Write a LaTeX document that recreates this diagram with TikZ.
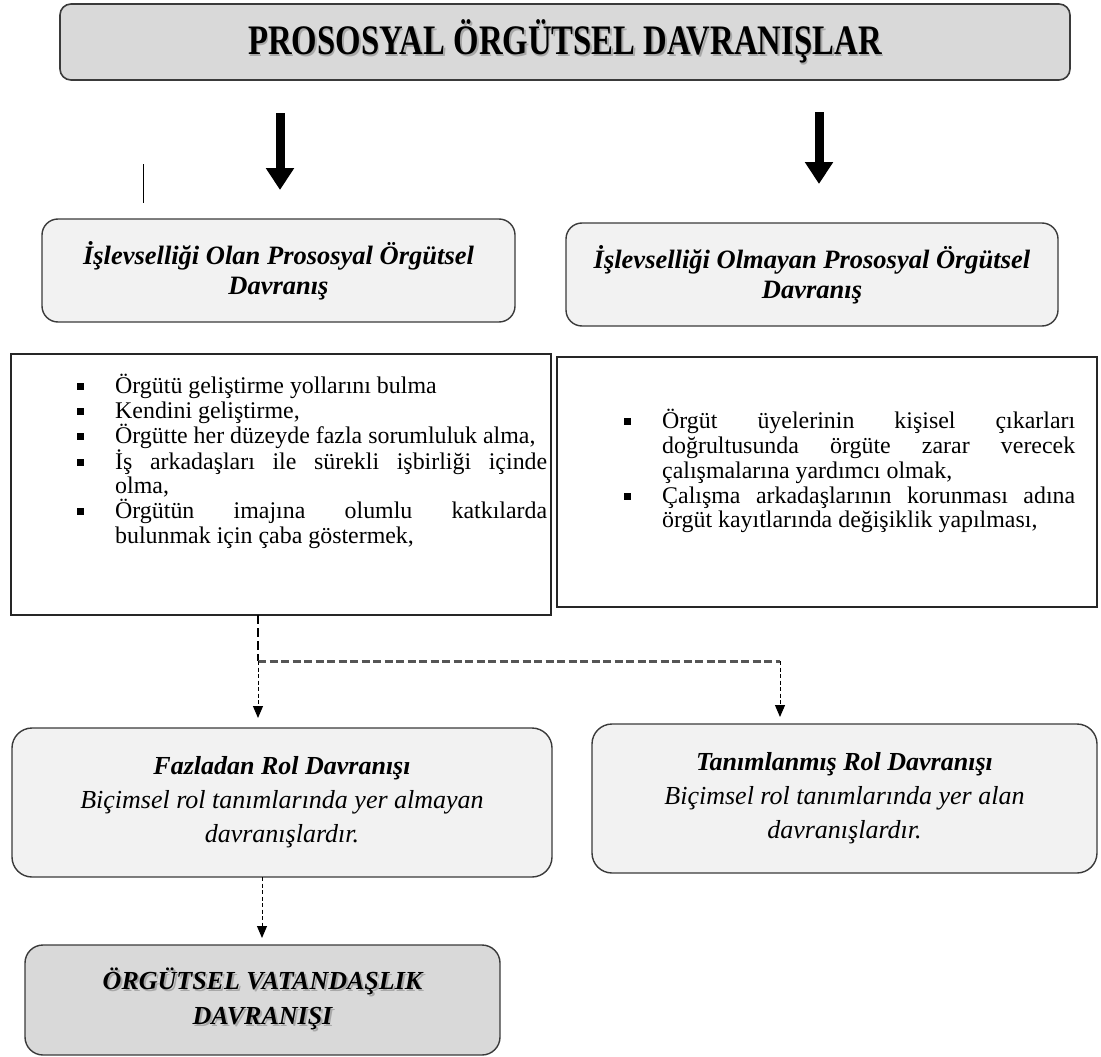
\documentclass[tikz,border=0pt]{standalone}
\usepackage{fontspec}
\usepackage{graphicx}
\setmainfont{Liberation Serif}[BoldFont={Liberation Serif Bold},ItalicFont={Liberation Serif Italic},BoldItalicFont={Liberation Serif Bold Italic}]
\usetikzlibrary{arrows.meta}
\definecolor{boxline}{HTML}{3A3A3A}
\definecolor{titlefill}{HTML}{D9D9D9}
\definecolor{lightfill}{HTML}{F2F2F2}
\definecolor{shadowgray}{HTML}{A8A8A8}
\definecolor{dashgray}{HTML}{555555}
\newcommand{\shadowed}[1]{\leavevmode\rlap{\kern2pt\raisebox{-2pt}{\textcolor{shadowgray}{#1}}}#1}
\newcommand{\bitem}{\par\noindent\llap{\makebox[38pt][l]{\rule[3.5pt]{7pt}{7pt}}}}
\tikzset{
  rbox/.style={draw=boxline, line width=1.4pt, rounded corners=16pt, fill=lightfill, inner sep=0pt, align=center},
  listbox/.style={draw=black!85, line width=1.4pt, inner sep=0pt},
  listtext/.style={inner sep=0pt, anchor=north west, align=justify,
    font={\fontsize{23.9}{24.7}\selectfont\hyphenpenalty=10000\exhyphenpenalty=10000\tolerance=10000}},
  bigarrow/.style={line width=9pt, -{Triangle[width=27pt,length=22pt]}},
  dasharrow/.style={line width=1pt, dash pattern=on 4pt off 2.5pt, -{Triangle[width=10pt,length=12pt]}},
  dashtop/.style={line width=2.4pt, dash pattern=on 9pt off 4pt},
  dashbar/.style={line width=3pt, draw=dashgray, dash pattern=on 8pt off 3.5pt},
}
\begin{document}
\begin{tikzpicture}[x=1pt,y=-1pt]
\useasboundingbox (0,0) rectangle (1101,1057);

% title
\node[draw=boxline, line width=1.6pt, rounded corners=11pt, fill=titlefill,
      minimum width=1010pt, minimum height=76pt, inner sep=0pt] (T) at (565,42)
  {\raisebox{-2pt}{\scalebox{0.78}[1]{\fontsize{42}{42}\selectfont\bfseries\shadowed{PROSOSYAL ÖRGÜTSEL DAVRANIŞLAR}}}};

% big arrows
\coordinate (a1s) at (280,113); \coordinate (a1e) at (280,190);
\coordinate (a2s) at (819,112); \coordinate (a2e) at (819,184);
\draw[bigarrow] (a1s) -- (a1e);
\draw[bigarrow] (a2s) -- (a2e);

% stray mark
\coordinate (s1) at (143,164); \coordinate (s2) at (143,203);
\draw[line width=1pt] (s1) -- (s2);

% second-level boxes
\node[rbox, minimum width=473pt, minimum height=103pt,
      font=\bfseries\itshape\fontsize{26.5}{30}\selectfont] (A) at (278.5,270.5)
  {İşlevselliği Olan Prososyal Örgütsel\\Davranış};
\node[rbox, minimum width=492pt, minimum height=103pt,
      font=\bfseries\itshape\fontsize{26.5}{30}\selectfont] (B) at (812,274.5)
  {İşlevselliği Olmayan Prososyal Örgütsel\\Davranış};

% list boxes
\node[listbox, minimum width=540pt, minimum height=261pt] (L) at (281,484.5) {};
\node[listbox, minimum width=540pt, minimum height=250pt] (R) at (827,482) {};

\node[listtext, text width=432pt] (Lt) at (115,369) {%
\bitem Örgütü geliştirme yollarını bulma
\bitem Kendini geliştirme,
\bitem Örgütte her düzeyde fazla sorumluluk alma,
\bitem İş arkadaşları ile sürekli işbirliği içinde\linebreak olma,
\bitem Örgütün imajına olumlu katkılarda\linebreak bulunmak için çaba göstermek,\par};

\node[listtext, text width=413pt] (Rt) at (662,404) {%
\bitem Örgüt üyelerinin kişisel çıkarları\linebreak doğrultusunda örgüte zarar verecek\linebreak çalışmalarına yardımcı olmak,
\bitem Çalışma arkadaşlarının korunması adına\linebreak örgüt kayıtlarında değişiklik yapılması,\par};

% third-level boxes
\node[rbox, rounded corners=20pt, minimum width=540pt, minimum height=149pt,
      font=\fontsize{26}{34}\selectfont] (C) at (282,802.5)
  {{\bfseries\itshape Fazladan Rol Davranışı}\\\itshape Biçimsel rol tanımlarında yer almayan\\\itshape davranışlardır.};
\node[rbox, rounded corners=20pt, minimum width=505pt, minimum height=149pt,
      font=\fontsize{26}{34}\selectfont] (E) at (844.5,798.5)
  {{\bfseries\itshape Tanımlanmış Rol Davranışı}\\\itshape Biçimsel rol tanımlarında yer alan\\\itshape davranışlardır.};

% final box
\node[rbox, rounded corners=18pt, fill=titlefill, minimum width=475pt, minimum height=110pt,
      font=\bfseries\itshape\fontsize{26}{35}\selectfont] (D) at (262.5,1000)
  {\shadowed{ÖRGÜTSEL VATANDAŞLIK}\\\shadowed{DAVRANIŞI}};

% dashed connectors
\coordinate (j1) at (258,615);
\coordinate (j2) at (258,661);
\coordinate (j3) at (780,661);
\coordinate (c1) at (258,718);
\coordinate (c2) at (780,717);
\draw[dashtop] (j1) -- (j2);
\draw[dashbar] (j2) -- (j3);
\draw[dasharrow] (j2) -- (c1);
\draw[dasharrow] (j3) -- (c2);
\coordinate (k1) at (262,877);
\coordinate (k2) at (262,938);
\draw[dasharrow] (k1) -- (k2);
\end{tikzpicture}
\end{document}
